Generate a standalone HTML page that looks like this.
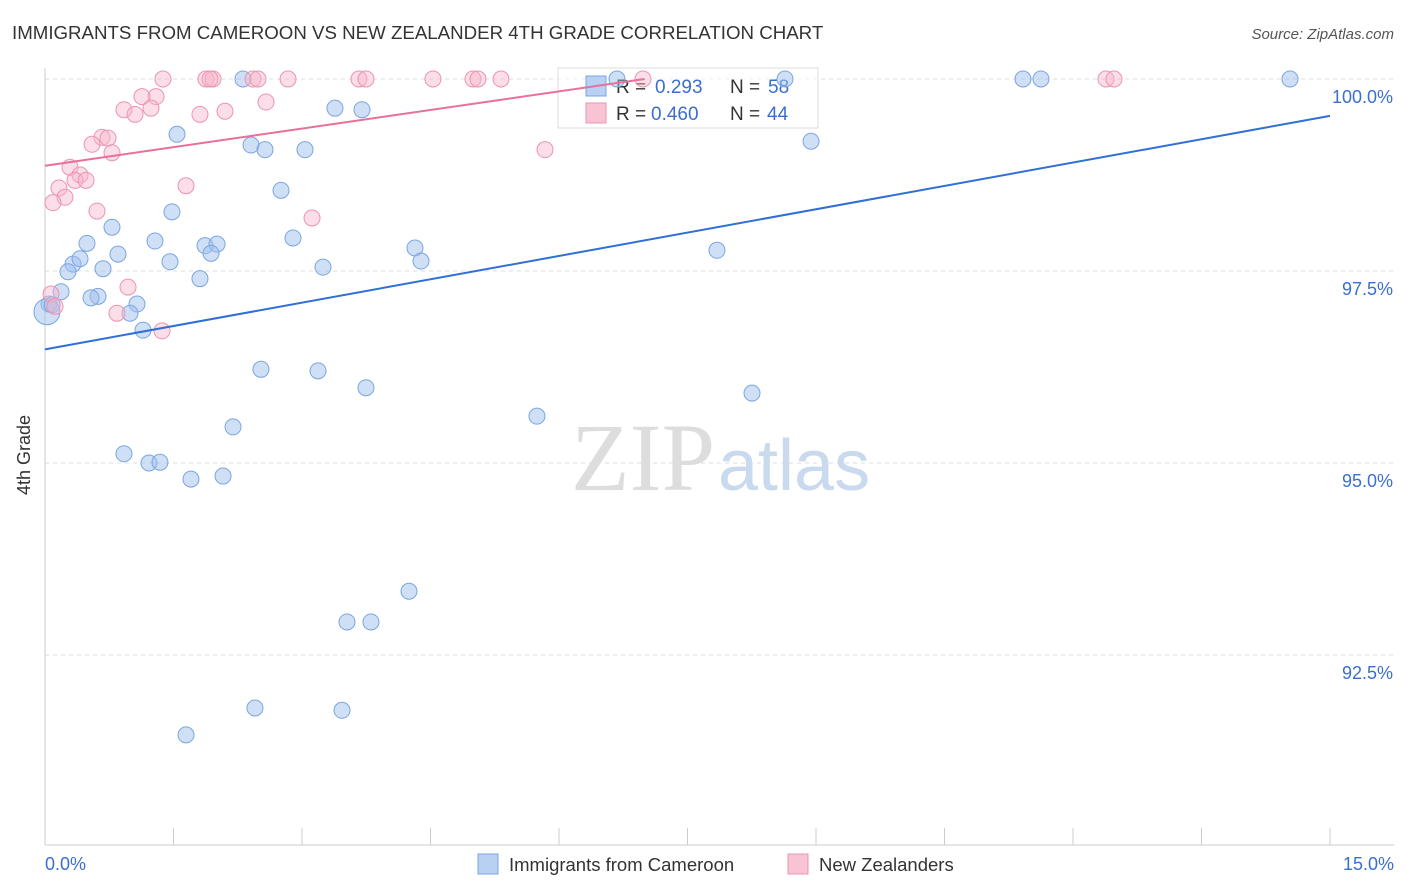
<!DOCTYPE html>
<html><head><meta charset="utf-8">
<style>
body{margin:0;background:#fff;font-family:"Liberation Sans",sans-serif;}
svg{display:block}
</style></head>
<body>
<svg width="1406" height="892">
<text x="12" y="39" font-size="18.7" fill="#333">IMMIGRANTS FROM CAMEROON VS NEW ZEALANDER 4TH GRADE CORRELATION CHART</text>
<text x="1394" y="39" font-size="15" fill="#555" font-style="italic" text-anchor="end">Source: ZipAtlas.com</text>
<g id="grid"></g>
<g id="axes"></g>
<text x="715" y="490" font-size="96" fill="#ddd" text-anchor="end" font-family="Liberation Serif,serif">ZIP</text>
<text x="718" y="490" font-size="72" fill="#c9d9ee">atlas</text>
<g>
<rect x="558" y="68" width="260" height="60" fill="#fff" fill-opacity="0.6" stroke="#ddd"/>
<rect x="586" y="76" width="20" height="20" fill="#b8d0f2" stroke="#7aa6e0"/>
<text x="616" y="93" font-size="19" fill="#333">R =</text>
<text x="655" y="93" font-size="19" fill="#3a6fd0">0.293</text>
<text x="730" y="93" font-size="19" fill="#333">N =</text>
<text x="768" y="93" font-size="19" fill="#3a6fd0">58</text>
<rect x="586" y="103" width="20" height="20" fill="#f8c4d4" stroke="#ec94b0"/>
<text x="616" y="120" font-size="19" fill="#333">R =</text>
<text x="651" y="120" font-size="19" fill="#3a6fd0">0.460</text>
<text x="730" y="120" font-size="19" fill="#333">N =</text>
<text x="767" y="120" font-size="19" fill="#3a6fd0">44</text>
</g>
<g id="pts"></g>
<g id="lines"></g>
<text x="30" y="455" font-size="18" fill="#333" transform="rotate(-90 30 455)" text-anchor="middle">4th Grade</text>
<text x="45" y="870" font-size="18" fill="#3a6fd0">0.0%</text>
<text x="1394" y="870" font-size="18" fill="#3a6fd0" text-anchor="end">15.0%</text>
<g>
<rect x="478" y="854" width="20" height="20" fill="#b8d0f2" stroke="#7aa6e0"/>
<text x="509" y="871" font-size="18.5" fill="#333">Immigrants from Cameroon</text>
<rect x="788" y="854" width="20" height="20" fill="#f8c4d4" stroke="#ec94b0"/>
<text x="819" y="871" font-size="18.5" fill="#333">New Zealanders</text>
</g>
</svg>
<script>
const yTicks=[100,97.5,95,92.5];
const yTickLabels=["100.0%","97.5%","95.0%","92.5%"];
const xTicks=[0,1.5,3,4.5,6,7.5,9,10.5,12,13.5,15];
const blueX=[2.311,6.677,11.416,11.626,14.533,8.638,3.385,3.700,1.541,2.405,2.568,3.035,8.942,2.755,1.482,0.782,0.490,1.284,2.895,1.868,2.008,1.938,0.852,4.319,4.389,7.844,1.459,0.327,0.409,0.268,0.677,3.245,1.809,0.187,0.619,0.537,1.074,0.992,0.047,0.023,0.082,1.144,2.521,3.187,3.747,8.253,5.743,2.195,0.922,1.214,1.342,1.704,2.078,4.249,3.525,3.805,2.451,3.467,1.646];
const blueY=[100,100,100,100,100,100,99.62,99.60,99.28,99.14,99.08,99.08,99.19,98.55,98.27,98.07,97.86,97.89,97.93,97.83,97.85,97.73,97.72,97.80,97.63,97.77,97.62,97.59,97.66,97.49,97.53,97.55,97.40,97.23,97.17,97.15,97.07,96.95,97.07,96.97,97.06,96.73,96.22,96.20,95.98,95.91,95.61,95.47,95.12,95.00,95.01,94.79,94.83,93.33,92.93,92.93,91.81,91.78,91.46];
const pinkX=[1.377,1.879,1.961,1.926,2.428,2.486,2.837,3.665,3.747,4.529,4.996,5.054,5.323,6.980,12.385,12.478,1.296,1.132,0.922,1.051,1.237,1.809,2.101,2.580,0.665,0.735,0.549,0.782,5.837,0.292,0.409,0.350,0.479,0.163,0.233,0.093,1.646,0.607,3.117,0.969,0.840,1.366,0.070,0.117];
const pinkY=[100,100,100,100,100,100,100,100,100,100,100,100,100,100,100,100,99.77,99.77,99.60,99.54,99.62,99.54,99.58,99.70,99.24,99.23,99.15,99.04,99.08,98.85,98.75,98.68,98.68,98.58,98.46,98.39,98.61,98.28,98.19,97.29,96.95,96.72,97.20,97.04];
const blueLine=[[0,96.48],[15,99.52]];
const pinkLine=[[0,98.87],[7.0,100]];
const X=v=>45+v/15*1285, Y=v=>79+(100-v)/2.5*192;
const NS="http://www.w3.org/2000/svg";
function mk(t,a,p){const e=document.createElementNS(NS,t);for(const k in a)e.setAttribute(k,a[k]);p.appendChild(e);return e;}
const grid=document.getElementById('grid'),axes=document.getElementById('axes'),pts=document.getElementById('pts'),lines=document.getElementById('lines');
yTicks.forEach((t,i)=>{
 const l=mk('line',{x1:45,x2:1394,y1:Y(t),y2:Y(t),stroke:'#ddd','stroke-dasharray':'4,4'},grid);
 
 
 const tx=mk('text',{x:1393,y:Y(t)+24,'font-size':18,fill:'#3a6fd0','text-anchor':'end'},grid);
 tx.textContent=yTickLabels[i];
 
 
});
const ax=mk('line',{x1:45,x2:45,y1:68,y2:845,stroke:'#ccc'},axes);


const bx=mk('line',{x1:45,x2:1394,y1:845,y2:845,stroke:'#ccc'},axes);


xTicks.forEach(t=>{
 const l=mk('line',{x1:X(t),x2:X(t),y1:828,y2:845,stroke:'#ccc'},axes);
 
 
});
blueX.forEach((x,i)=>{
 const big=(i===39);
 const c=mk('circle',{cx:X(x),cy:Y(blueY[i]),r:big?13:8,fill:'rgba(160,192,238,0.5)',stroke:'#7aa6e0','stroke-width':1},pts);
 
 
});
pinkX.forEach((x,i)=>{
 const c=mk('circle',{cx:X(x),cy:Y(pinkY[i]),r:8,fill:'rgba(246,182,202,0.45)',stroke:'#ec94b0','stroke-width':1},pts);
 
 
});
const bl=mk('line',{x1:X(blueLine[0][0]),y1:Y(blueLine[0][1]),x2:X(blueLine[1][0]),y2:Y(blueLine[1][1]),stroke:'#2f6fd6','stroke-width':2},lines);


const pl=mk('line',{x1:X(pinkLine[0][0]),y1:Y(pinkLine[0][1]),x2:X(pinkLine[1][0]),y2:Y(pinkLine[1][1]),stroke:'#e8709a','stroke-width':2},lines);


</script>
</body></html>
